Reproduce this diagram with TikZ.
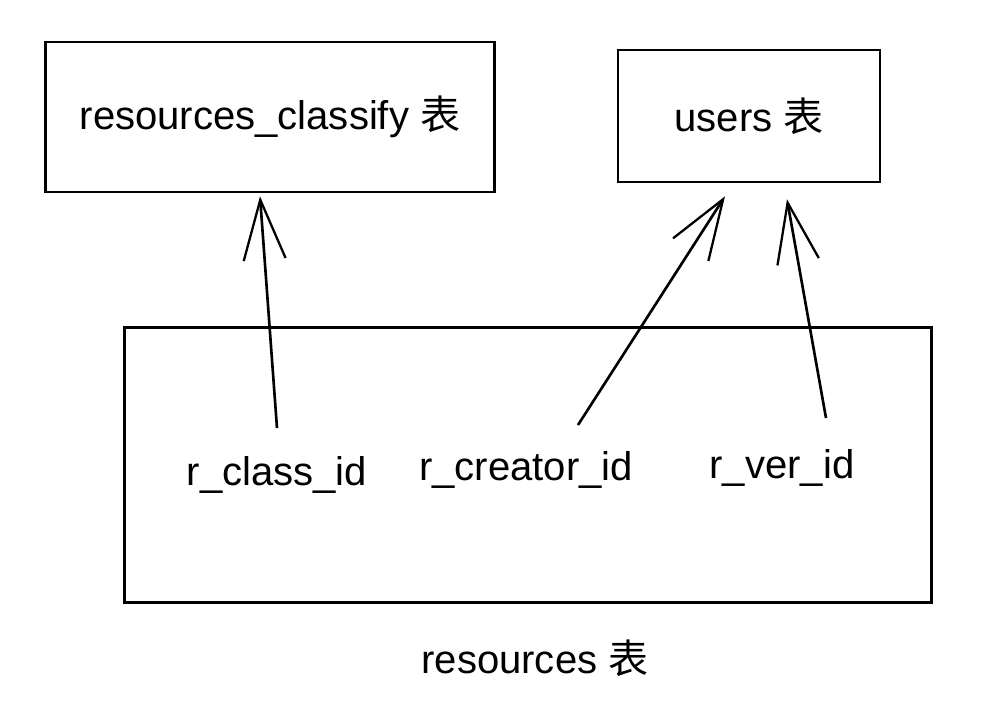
\documentclass[tikz,border=0pt]{standalone}
\usepackage{fontspec}
\setmainfont{Liberation Sans}
\newfontfamily\cjk{Noto Sans CJK SC}
\usetikzlibrary{arrows.meta}
\begin{document}
\begin{tikzpicture}[
    x=0.02cm, y=-0.02cm,
    tbl/.style={rectangle, draw, line width=1.5pt, inner sep=0pt,
               font=\fontsize{22.8}{27}\selectfont},
    fld/.style={inner sep=0pt, font=\fontsize{22.8}{27}\selectfont},
    ref/.style={-{Straight Barb[length=1.2cm, width=0.84cm, line width=1.3pt]},
                line width=1.5pt}
]
\useasboundingbox (0, 0) rectangle (984, 712);
\node[tbl, minimum width=8.98cm, minimum height=3.0cm] (cls) at (270, 117) {resources\_classify {\cjk 表}};
\node[tbl, minimum width=5.24cm, minimum height=2.64cm] (usr) at (749, 116) {users {\cjk 表}};
\node[tbl, minimum width=16.14cm, minimum height=5.5cm] (res) at (528, 465) {};
\node[fld] (rcls) at (277, 475) {r\_class\_id};
\node[fld] (rcre) at (526, 470) {r\_creator\_id};
\node[fld] (rver) at (782, 468) {r\_ver\_id};
\node[fld] (resname) at (535, 658) {resources {\cjk 表}};

\draw[ref] ([yshift=0.94cm]rcls.center) -- ([xshift=-0.2cm, yshift=-0.06cm]cls.south);
\draw[ref] ([xshift=1.04cm, yshift=0.9cm]rcre.center) -- ([xshift=-0.48cm, yshift=-0.26cm]usr.south);
\draw[ref] ([xshift=0.88cm, yshift=1.0cm]rver.center) -- ([xshift=0.76cm, yshift=-0.32cm]usr.south);
\end{tikzpicture}
\end{document}
